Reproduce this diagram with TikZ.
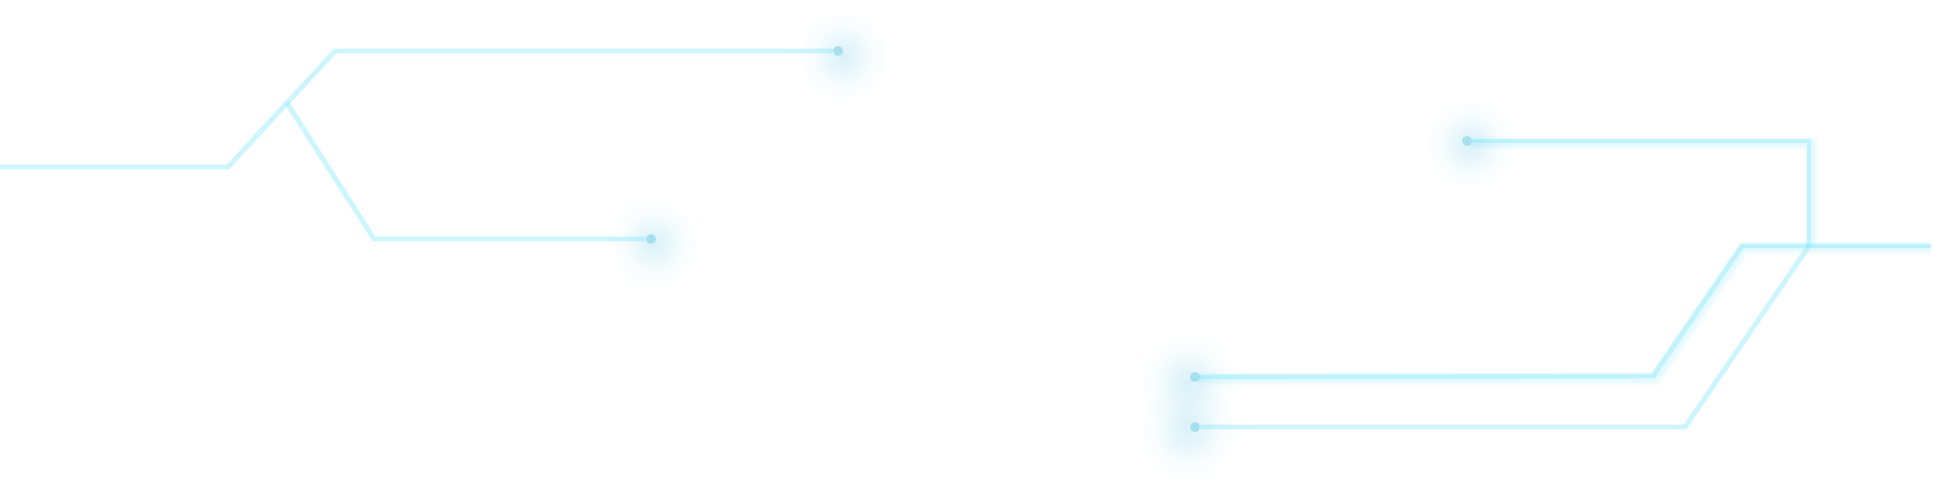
\documentclass[tikz,border=0pt]{standalone}
\usetikzlibrary{fadings}

\definecolor{wirecol}{HTML}{7FE6FA}
\definecolor{dotcol}{HTML}{A6DFEE}
\definecolor{halocol}{HTML}{7CCFE8}

\pgfdeclareradialshading{haloshade}{\pgfpointorigin}{color(0bp)=(black!72); color(8bp)=(black!82); color(16bp)=(black!94); color(25bp)=(black); color(50bp)=(black)}
\tikzfading[name=halofade, shading=haloshade]

\tikzset{
  wire/.style={draw=wirecol, draw opacity=.4, line width=2.8pt, miter limit=10},
  blur/.style={draw=wirecol, draw opacity=.04, line cap=butt},
  halo/.style={fill=halocol, path fading=halofade},
  px/.style={x=.02cm, y=-.02cm},
  pin/.style={circle, fill=dotcol, inner sep=0pt, minimum size=.2cm},
}

\begin{document}
\begin{tikzpicture}[px]
\useasboundingbox (0,0) rectangle (1935,486);

% left group
\coordinate (la) at (0,167);
\coordinate (lb) at (228,167);
\coordinate (lc) at (335,51);
\coordinate (ld) at (287,103);
\coordinate (le) at (374,239);

% right group
\coordinate (ra) at (1809,141);
\coordinate (rb) at (1809,246);
\coordinate (rc) at (1929,246);
\coordinate (rd) at (1742,246);
\coordinate (re) at (1653,376);
\coordinate (rf) at (1685,427);

% halos
\fill[halo] (843,56) circle (46);
\fill[halo] (654,243) circle (46);
\fill[halo] (1470,144) circle (46);
\fill[halo] (1188,382) circle (50);
\fill[halo] (1188,430) circle (50);

% soft edge of the right wires
\foreach \w in {6,8,10,12,14} {
  \draw[blur, line width=\w*.567pt] (1469,143) -- (1811,143) -- (1811,248);
  \draw[blur, line width=\w*.567pt] (1931,248) -- (1744,248) -- (1655,379) -- (1197,379);
}

\node[pin] (pina) at (838,51) {};
\node[pin] (pinb) at (651,239) {};
\node[pin] (pinc) at (1467,141) {};
\node[pin] (pind) at (1195,377) {};
\node[pin] (pine) at (1195,427) {};

\draw[wire] (la) -- (lb) -- (lc) -- (pina);
\draw[wire] (ld) -- (le) -- (pinb);
\draw[wire] (pinc) -- (ra) -- (rb);
\draw[wire, line cap=round] (rc) -- (rd) -- (re) -- (pind);
\draw[wire] (rb) -- (rf) -- (pine);

\end{tikzpicture}
\end{document}
